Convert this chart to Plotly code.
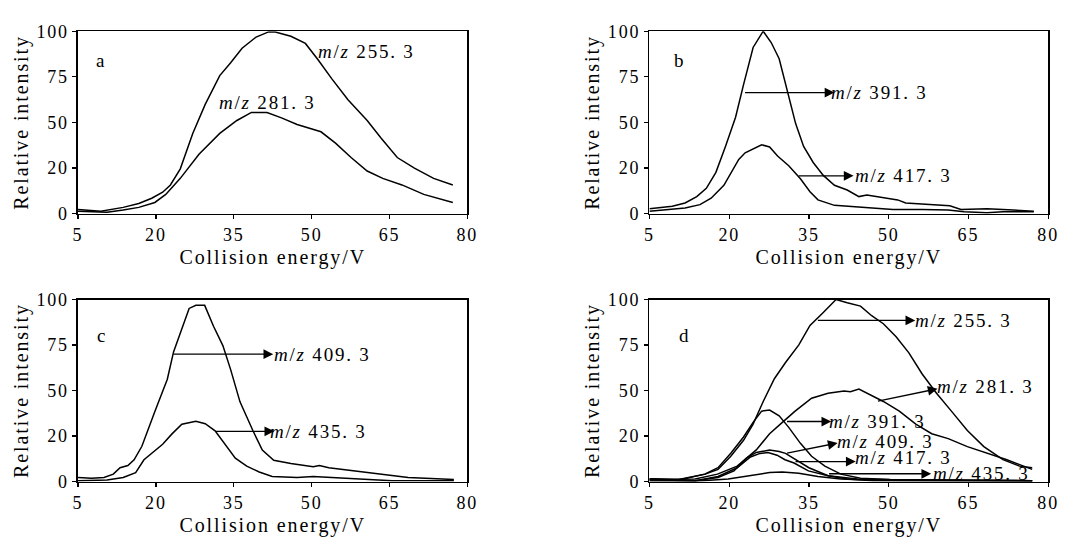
import plotly.graph_objects as go

# ---------------- data ----------------
# panel a
a_x_255 = [5.0, 9.4, 13.7, 16.7, 19.2, 21.3, 22.8, 24.7, 27.1, 29.5, 32.3, 34.4, 36.6, 39.3, 41.7, 43.0, 46.0, 48.8, 51.2, 53.9, 57.0, 60.7, 63.4, 66.5, 69.8, 73.5, 77.2]
a_y_255 = [2.3, 1.4, 3.5, 5.6, 8.5, 11.8, 15.8, 24.6, 44.0, 59.9, 75.7, 82.7, 90.7, 96.8, 99.6, 99.6, 97.2, 93.3, 84.5, 73.9, 62.5, 51.1, 41.4, 30.8, 25.0, 19.4, 15.8]
a_x_281 = [5.0, 8.2, 10.6, 13.7, 16.7, 19.8, 21.9, 24.7, 28.3, 32.3, 35.6, 38.4, 41.4, 44.2, 47.2, 51.8, 54.6, 57.6, 60.7, 63.7, 67.4, 71.6, 77.2]
a_y_281 = [1.4, 0.9, 0.9, 2.1, 3.5, 6.2, 10.6, 19.4, 32.6, 44.0, 51.1, 55.5, 55.5, 52.5, 48.9, 44.9, 38.7, 30.8, 23.4, 19.4, 15.8, 10.6, 6.2]

# panel b
b_x_391 = [5.0, 9.3, 11.7, 13.9, 15.7, 17.5, 19.3, 21.2, 22.7, 24.5, 26.4, 27.9, 29.4, 31.0, 32.5, 34.0, 35.8, 37.7, 39.8, 42.2, 44.4, 45.9, 47.7, 49.6, 51.7, 53.2, 56.3, 59.3, 61.5, 63.6, 68.5, 71.5, 77.3]
b_y_391 = [2.8, 4.1, 5.9, 9.4, 13.9, 22.7, 36.9, 52.9, 70.7, 91.1, 100.0, 93.8, 84.9, 67.1, 49.4, 36.9, 28.1, 21.0, 15.6, 13.0, 9.4, 10.3, 9.4, 8.5, 7.6, 5.9, 5.3, 5.0, 4.4, 2.3, 2.7, 2.3, 1.4]
b_x_417 = [5.0, 9.3, 11.7, 14.5, 16.6, 19.0, 21.8, 23.0, 24.5, 26.1, 27.6, 29.1, 31.2, 33.4, 35.2, 36.7, 39.8, 44.1, 47.1, 50.8, 56.3, 61.2, 64.2, 68.5, 71.5, 77.3]
b_y_417 = [1.4, 2.3, 3.2, 5.0, 8.5, 15.6, 29.8, 33.4, 35.5, 37.8, 36.6, 31.6, 26.3, 19.2, 12.1, 7.6, 4.6, 3.6, 2.8, 2.3, 2.3, 2.0, 1.1, 0.5, 1.1, 1.1]

# panel c
c_x_409 = [5.0, 7.6, 10.0, 11.8, 13.1, 14.6, 15.8, 17.3, 19.8, 22.2, 23.4, 24.7, 26.4, 27.7, 29.4, 31.1, 32.9, 34.4, 36.2, 38.7, 40.5, 42.7, 46.0, 50.3, 51.5, 53.3, 58.2, 63.1, 68.6, 77.4]
c_y_409 = [2.3, 1.9, 2.3, 4.1, 7.6, 8.8, 12.0, 19.4, 38.5, 56.2, 71.2, 81.8, 95.1, 96.8, 96.8, 85.3, 74.7, 61.5, 43.8, 27.9, 17.3, 11.7, 9.9, 8.1, 8.8, 7.6, 5.8, 4.1, 2.3, 1.1]
c_x_435 = [5.0, 10.6, 13.7, 16.1, 17.7, 19.2, 21.3, 23.1, 25.0, 27.7, 29.5, 31.4, 33.2, 35.3, 37.5, 39.9, 42.4, 47.2, 50.3, 53.3, 56.4, 60.7, 65.5, 77.4]
c_y_435 = [0.5, 0.9, 2.3, 4.9, 12.0, 15.6, 20.5, 26.2, 31.5, 33.2, 31.8, 27.9, 20.9, 12.9, 8.5, 5.3, 2.8, 2.3, 2.8, 2.3, 1.8, 1.1, 0.5, 0.5]

# panel d
d_x_255 = [5.0, 10.5, 15.5, 17.9, 20.3, 22.7, 24.5, 26.4, 28.5, 30.6, 33.1, 35.2, 37.7, 40.1, 42.2, 44.7, 46.8, 49.0, 51.4, 53.8, 56.3, 59.0, 61.8, 64.8, 67.9, 71.5, 74.6, 77.0]
d_y_255 = [1.5, 0.9, 4.1, 6.7, 13.9, 22.7, 31.6, 44.0, 56.5, 65.4, 75.1, 85.8, 92.9, 100.0, 98.2, 96.4, 91.1, 86.7, 79.6, 70.7, 59.1, 48.5, 38.7, 28.1, 19.2, 12.1, 8.5, 7.6]
d_x_281 = [5.0, 13.6, 17.8, 21.5, 25.1, 27.6, 30.0, 32.4, 35.5, 38.6, 41.6, 42.8, 44.4, 46.5, 49.0, 52.0, 55.1, 58.1, 61.2, 64.8, 68.5, 72.1, 77.0]
d_y_281 = [1.0, 1.4, 4.1, 8.5, 17.4, 26.3, 32.5, 38.7, 45.8, 48.5, 49.7, 49.4, 50.8, 47.6, 44.0, 38.7, 31.6, 26.3, 23.6, 19.2, 15.6, 12.1, 6.7]
d_x_391 = [5.0, 10.5, 15.4, 17.9, 20.3, 22.7, 24.5, 26.1, 27.6, 29.4, 31.2, 33.4, 35.5, 38.0, 41.0, 44.7, 50.2, 77.0]
d_y_391 = [1.5, 1.1, 4.1, 7.6, 15.6, 24.5, 32.5, 38.7, 39.3, 36.1, 29.8, 21.0, 13.9, 8.5, 4.1, 1.8, 1.1, 0.5]
d_x_409 = [5.0, 13.6, 17.9, 20.9, 23.3, 25.1, 27.6, 29.4, 30.6, 32.5, 35.0, 38.6, 42.2, 47.1, 77.0]
d_y_409 = [1.0, 0.5, 2.3, 5.9, 13.0, 16.0, 17.3, 16.5, 15.5, 12.0, 7.6, 3.2, 1.4, 0.5, 0.2]
d_x_417 = [5.0, 13.6, 17.9, 21.5, 24.0, 25.8, 27.3, 29.0, 30.5, 32.2, 34.9, 38.6, 44.1, 53.2, 77.0]
d_y_417 = [1.0, 0.5, 2.8, 7.6, 13.5, 15.5, 16.0, 14.5, 12.0, 10.2, 5.9, 3.2, 1.4, 0.9, 0.5]
d_x_435 = [5.0, 13.6, 19.8, 24.0, 27.6, 30.0, 33.1, 36.7, 41.0, 47.1, 77.0]
d_y_435 = [0.3, 0.2, 1.4, 3.2, 5.0, 5.3, 4.6, 2.8, 1.4, 0.7, 0.4]

x_tickvals = [5, 20, 35, 50, 65, 80]
y_tickvals = [0, 25, 50, 75, 100]
y_ticktext = ["0", "20", "50", "75", "100"]
panel_letters = ["a", "b", "c", "d"]

# ---------------- figure ----------------
W, H = 1069, 547
FONT = "Liberation Serif, Times New Roman, Times, serif"

def dom_x(l, r):
    return [l / W, r / W]

def dom_y(t, b):
    return [1 - b / H, 1 - t / H]

panels = {
    1: dict(xd=dom_x(74, 468.5), yd=dom_y(22, 211.5)),
    2: dict(xd=dom_x(653, 1057), yd=dom_y(22, 211.5)),
    3: dict(xd=dom_x(74, 468.5), yd=dom_y(300.5, 489.5)),
    4: dict(xd=dom_x(653, 1057), yd=dom_y(300.5, 489.5)),
}

series = {
    1: [(a_x_255, a_y_255), (a_x_281, a_y_281)],
    2: [(b_x_391, b_y_391), (b_x_417, b_y_417)],
    3: [(c_x_409, c_y_409), (c_x_435, c_y_435)],
    4: [(d_x_255, d_y_255), (d_x_281, d_y_281), (d_x_391, d_y_391),
        (d_x_409, d_y_409), (d_x_417, d_y_417), (d_x_435, d_y_435)],
}

fig = go.Figure()
for i, lst in series.items():
    sfx = "" if i == 1 else str(i)
    for xs, ys in lst:
        fig.add_trace(go.Scatter(x=xs, y=ys, mode="lines",
                                 line=dict(color="black", width=1.5),
                                 xaxis="x" + sfx, yaxis="y" + sfx,
                                 showlegend=False, hoverinfo="skip"))

layout = dict(width=W, height=H, margin=dict(l=0, r=0, t=0, b=0),
              paper_bgcolor="white", plot_bgcolor="white",
              font=dict(family=FONT, color="black", size=18), showlegend=False)

for i, p in panels.items():
    sfx = "" if i == 1 else str(i)
    layout["xaxis" + sfx] = dict(
        domain=p["xd"], anchor="y" + sfx, range=[5, 80],
        tickvals=x_tickvals, ticks="outside", ticklen=4, tickwidth=1.3,
        tickcolor="black", showline=True, linecolor="black", linewidth=1.6,
        mirror=True, showgrid=False, zeroline=False,
        tickfont=dict(family=FONT, size=18, color="black"),
        title=dict(text="Collision energy/V", standoff=6,
                   font=dict(family=FONT, size=20, color="black")))
    layout["yaxis" + sfx] = dict(
        domain=p["yd"], anchor="x" + sfx, range=[0, 100],
        tickvals=y_tickvals, ticktext=y_ticktext, ticks="outside", ticklen=4,
        tickwidth=1.3, tickcolor="black", showline=True, linecolor="black",
        linewidth=1.6, mirror=True, showgrid=False, zeroline=False,
        tickfont=dict(family=FONT, size=18, color="black"),
        title=dict(text="Relative intensity", standoff=8,
                   font=dict(family=FONT, size=20, color="black")))

fig.update_layout(**layout)

MZ = "<i>m</i>/<i>z</i> "
ann = []
# panel letters
letter_pos = [(9.6, 83.8), (10.8, 83.8), (9.6, 80.5), (11.7, 80.5)]
for i, (lt, (lx, ly)) in enumerate(zip(panel_letters, letter_pos), start=1):
    sfx = "" if i == 1 else str(i)
    ann.append(dict(x=lx, y=ly, xref="x" + sfx, yref="y" + sfx, text=lt,
                    showarrow=False, font=dict(family=FONT, size=19),
                    xanchor="center", yanchor="middle"))

# labels: (panel, text, text_x, text_y, arrow tail (x,y) or None, arrow head (x,y))
labels = [
    (1, "255. 3", 52.6, 89.0, None, None),
    (1, "281. 3", 33.5, 60.9, None, None),
    (2, "391. 3", 40.4, 66.4, (22.7, 66.4), (39.8, 66.4)),
    (2, "417. 3", 45.0, 20.8, (32.8, 20.8), (43.4, 20.8)),
    (3, "409. 3", 44.1, 70.0, (23.1, 70.0), (42.6, 70.0)),
    (3, "435. 3", 43.4, 27.6, (31.2, 27.6), (42.8, 27.6)),
    (4, "255. 3", 56.3, 88.5, (36.4, 88.5), (55.0, 88.5)),
    (4, "281. 3", 60.4, 52.0, (47.7, 44.0), (59.2, 51.0)),
    (4, "391. 3", 40.1, 33.0, (30.6, 33.0), (39.2, 33.0)),
    (4, "409. 3", 41.6, 21.8, (30.6, 15.5), (40.4, 21.2)),
    (4, "417. 3", 45.0, 13.0, (32.2, 11.0), (43.8, 11.0)),
    (4, "435. 3", 59.6, 4.3, (38.5, 4.3), (58.0, 4.3)),
]
for (i, num, tx, ty, tail, head) in labels:
    sfx = "" if i == 1 else str(i)
    ann.append(dict(x=tx, y=ty, xref="x" + sfx, yref="y" + sfx, text=MZ + num,
                    showarrow=False, xanchor="left", yanchor="middle",
                    font=dict(family=FONT, size=19, color="black")))
    if tail is not None:
        ann.append(dict(x=head[0], y=head[1], ax=tail[0], ay=tail[1],
                        xref="x" + sfx, yref="y" + sfx,
                        axref="x" + sfx, ayref="y" + sfx, text="",
                        showarrow=True, arrowhead=2, arrowsize=1.5,
                        arrowwidth=1.3, arrowcolor="black",
                        standoff=0, startstandoff=0))

fig.update_layout(annotations=ann)

post = """
document.body.style.margin = '0';
document.body.style.padding = '0';
var gd = document.getElementById('{plot_id}');
function ls(){
  gd.querySelectorAll('g[class*="tick"] text').forEach(function(t){t.style.letterSpacing='1.8px';});
  gd.querySelectorAll('text[class$="title"]').forEach(function(t){t.style.letterSpacing='1.9px';});
  gd.querySelectorAll('.annotation-text').forEach(function(t){t.style.letterSpacing='1.8px';});
}
ls();
gd.on('plotly_afterplot', ls);
"""

fig.write_html("out.html", post_script=post,
               config={"displayModeBar": False, "staticPlot": True})
